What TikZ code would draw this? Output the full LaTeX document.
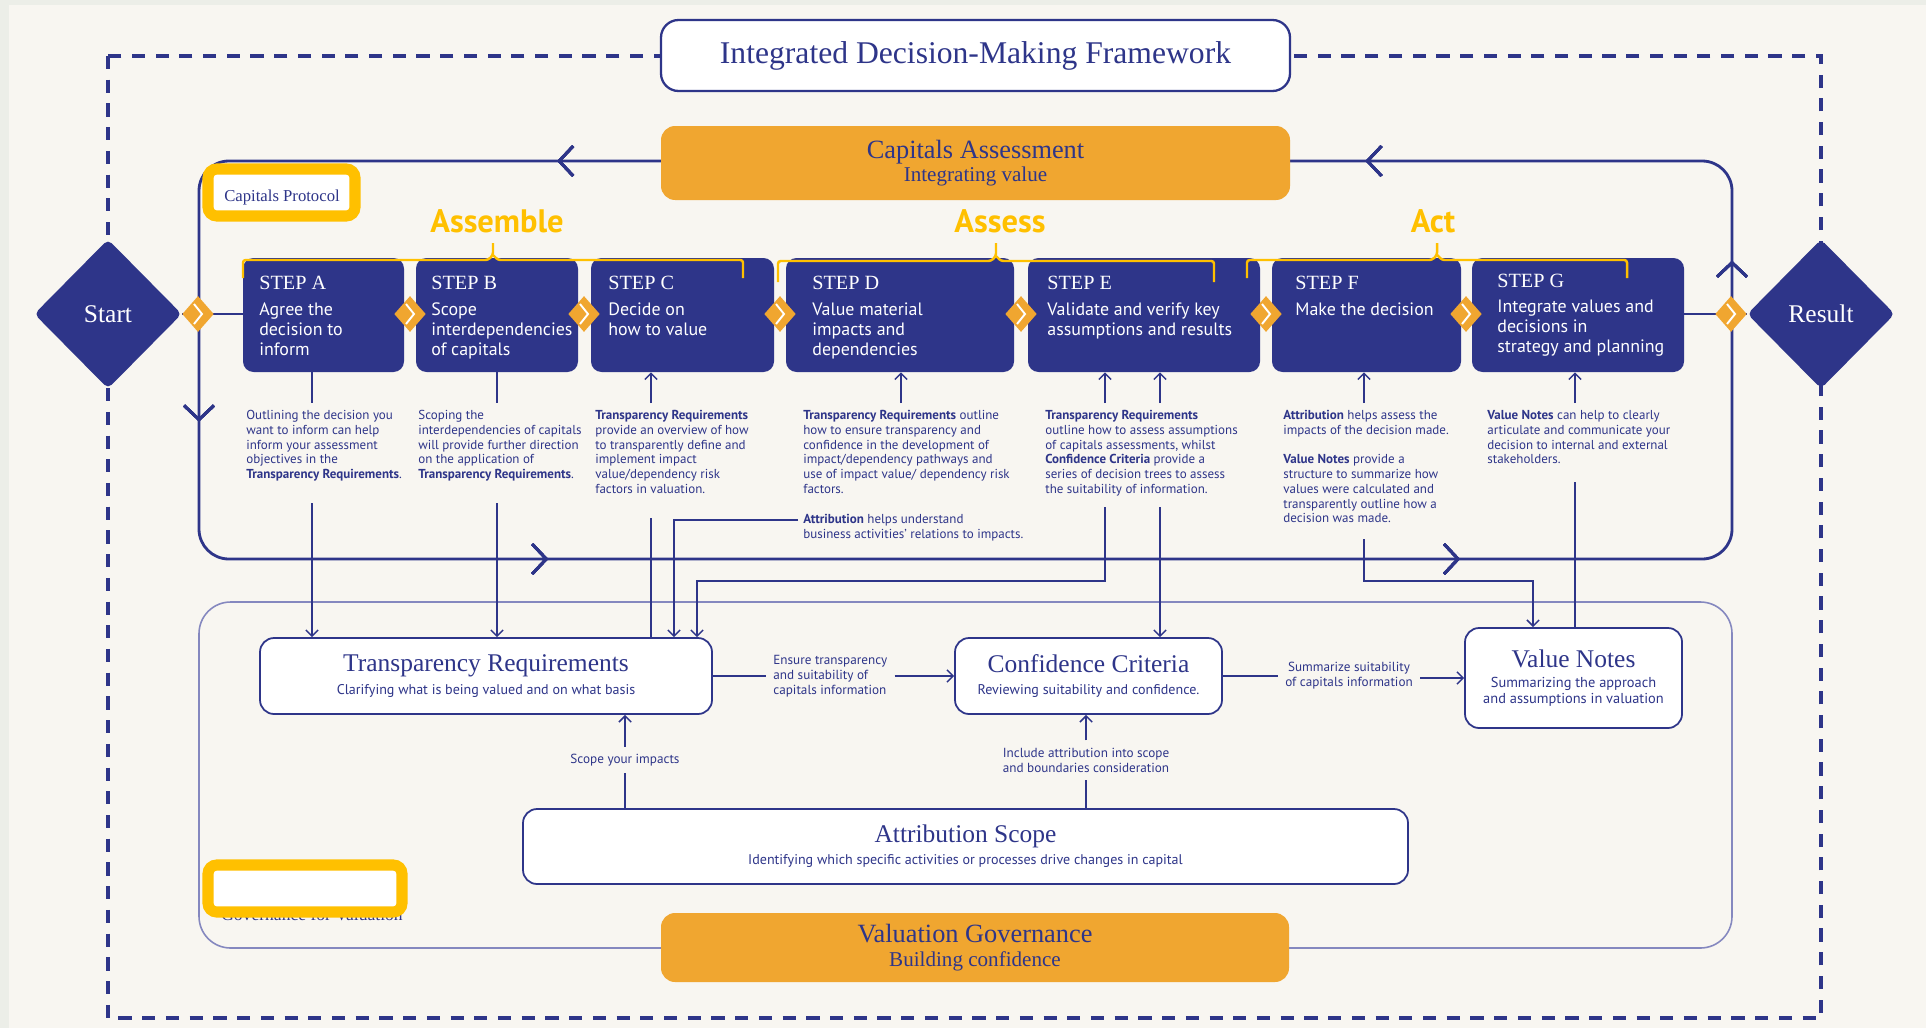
\documentclass[tikz,border=0pt]{standalone}
\usepackage{fontspec}
\setmainfont{Liberation Serif}
\setsansfont{PT Sans}
\usetikzlibrary{arrows.meta,positioning,fit,calc,shapes.geometric,decorations.markings}

\definecolor{navy}{HTML}{2E3589}
\definecolor{amber}{HTML}{F0A630}
\definecolor{gold}{HTML}{FFC000}
\definecolor{paper}{HTML}{F8F6F1}
\definecolor{edge}{HTML}{ECEEE8}
\definecolor{lilac}{HTML}{8588BF}

\tikzset{
  stepbox/.style={fill=navy, rounded corners=6pt, inner sep=0pt},
  steptitle/.style={anchor=base west, inner sep=0pt, text=white, font=\fontsize{11.5}{14}\selectfont},
  steptext/.style={anchor=north west, inner sep=0pt, text=white, align=left, font=\sffamily\fontsize{10.2}{11.4}\selectfont},
  note/.style={anchor=north west, inner sep=0pt, text=navy, align=left, font=\sffamily\fontsize{7.4}{8.4}\selectfont},
  wbox/.style={draw=navy, line width=1pt, fill=white, rounded corners=8pt, inner sep=0pt},
  obox/.style={fill=amber, rounded corners=8pt, inner sep=0pt},
  boxtext/.style={inner sep=0pt, align=center, text=navy},
  tag/.style={draw=gold, line width=6.3pt, fill=white, rounded corners=5pt, inner sep=0pt},
  phase/.style={text=gold, font=\sffamily\bfseries\fontsize{18.5}{20}\selectfont},
  brace/.style={draw=gold, line width=1.4pt, rounded corners=1.5pt},
  hinge/.style={diamond, fill=amber, minimum width=18pt, minimum height=20.5pt, inner sep=0pt},
  chevron/.style={draw=white, line width=1.1pt},
  ends/.style={diamond, fill=navy, text=white, minimum width=84pt, minimum height=85pt, inner sep=0pt, rounded corners=3pt, font=\fontsize{14.5}{16}\selectfont},
  loopline/.style={navy, line width=1.6pt},
  loopmark/.style={decoration={markings, mark=at position #1 with {\arrow{Straight Barb[length=8pt, width=17pt]}}}, postaction={decorate}},
  conn/.style={draw=navy, line width=0.85pt},
  arr/.style={conn, -{Straight Barb[length=3.5pt, width=7pt]}},
  lbl/.style={text=navy, font=\sffamily\fontsize{7.5}{8.6}\selectfont, inner sep=4pt},
  sub/.style={font=\sffamily\fontsize{8}{9.6}\selectfont},
}

\newcommand{\bhead}[1]{{\rmfamily\fontsize{14.5}{16}\selectfont #1}}

\begin{document}
\begin{tikzpicture}[x=0.02cm, y=-0.02cm]
% paper
\fill[paper] (0,0) rectangle (1926,1028);
\fill[edge] (0,0) rectangle (9,1028);
\fill[edge] (0,0) rectangle (1926,5);
\useasboundingbox (0,0) rectangle (1926,1028);

% frames
\draw[navy, line width=1.9pt, dash pattern=on 7.5pt off 6pt] (108,56) rectangle (1821,1018);
\draw[lilac, line width=0.9pt, rounded corners=18pt] (199,602) rectangle (1732,948);
\draw[loopline, rounded corners=17pt, loopmark=7.76cm, loopmark=19.88cm, loopmark=29.36cm,
  loopmark=47.6cm, loopmark=58.75cm, loopmark=67.82cm]
  (975,161) -- (199,161) -- (199,559) -- (1732,559) -- (1732,161) -- cycle;

% header and the two orange bands
\node[wbox, line width=1.3pt, rounded corners=10pt, fit={(661,20)(1290,91)}] (title) {};
\node[boxtext, font=\fontsize{18}{20}\selectfont] (titletxt) at (title.center) {Integrated Decision-Making Framework};
\node[obox, fit={(661,126)(1290,200)}] (assess) {};
\node[boxtext, font=\fontsize{12}{13.5}\selectfont] (assesstxt) at (assess.center) {{\fontsize{15}{17}\selectfont Capitals Assessment}\\Integrating value};
\node[obox, fit={(661,913)(1289,982)}] (govern) {};
\node[boxtext, font=\fontsize{12}{14}\selectfont] (governtxt) at (govern.center) {{\fontsize{15}{17}\selectfont Valuation Governance}\\Building confidence};

% steps
\node[stepbox, fit={(243,258)(404,372)}] (stepA) {};
\node[stepbox, fit={(416,258)(578,372)}] (stepB) {};
\node[stepbox, fit={(591,258)(774,372)}] (stepC) {};
\node[stepbox, fit={(786,258)(1014,372)}] (stepD) {};
\node[stepbox, fit={(1028,258)(1260,372)}] (stepE) {};
\node[stepbox, fit={(1272,258)(1461,372)}] (stepF) {};
\node[stepbox, fit={(1472,258)(1684,372)}] (stepG) {};

\node[steptitle] (titleA) at (259,289) {STEP A};
\node[steptext] (textA) at (259,302) {Agree the\\decision to\\inform};
\node[steptitle] (titleB) at (431,289) {STEP B};
\node[steptext] (textB) at (431,302) {Scope\\interdependencies\\of capitals};
\node[steptitle] (titleC) at (608,289) {STEP C};
\node[steptext] (textC) at (608,302) {Decide on\\how to value};
\node[steptitle] (titleD) at (812,289) {STEP D};
\node[steptext] (textD) at (812,302) {Value material\\impacts and\\dependencies};
\node[steptitle] (titleE) at (1047,289) {STEP E};
\node[steptext] (textE) at (1047,302) {Validate and verify key\\assumptions and results};
\node[steptitle] (titleF) at (1295,289) {STEP F};
\node[steptext] (textF) at (1295,302) {Make the decision};
\node[steptitle] (titleG) at (1497,287) {STEP G};
\node[steptext] (textG) at (1497,300) {Integrate values and\\decisions in\\strategy and planning};

% start / result and the hinges between steps
\node[ends] (start) at (108,314) {Start};
\node[ends] (result) at (1821,314) {Result};
\draw[loopline] (start.east) -- (start.east -| stepA.west);
\draw[loopline] (stepG.east |- result.west) -- (result.west);
\foreach \x [count=\i] in {198,410,584,780,1021,1266,1466,1731} {
  \node[hinge] (hinge\i) at (\x,314) {};
  \draw[chevron] ([shift={(-4,-10)}]hinge\i.center) -- ([shift={(4,0)}]hinge\i.center) -- ([shift={(-4,10)}]hinge\i.center);
}

% phases
\node[phase] (assemble) at (497,221) {Assemble};
\node[phase] (assessing) at (1000,221) {Assess};
\node[phase] (act) at (1433,221) {Act};
\draw[brace] (243,278) -- (243,260) -- (488,260) -- (493,255) -- (493,243);
\draw[brace] (493,255) -- (498,260) -- (743,260) -- (743,278);
\draw[brace] (778,282) -- (778,261) -- (991,261) -- (996,256) -- (996,243);
\draw[brace] (996,256) -- (1001,261) -- (1214,261) -- (1214,282);
\draw[brace] (1247,278) -- (1247,260) -- (1432,260) -- (1437,255) -- (1437,243);
\draw[brace] (1437,255) -- (1442,260) -- (1627,260) -- (1627,278);

% yellow tags
\node[tag, fit={(208,169)(355,216)}] (protocol) {};
\node[text=navy, font=\fontsize{9.5}{11}\selectfont] (protocoltxt) at (282,197) {Capitals Protocol};
\node[text=navy, anchor=base, font=\fontsize{10}{12}\selectfont] (govtxt) at (312,920) {Governance for Valuation};
\node[tag, fit={(208,865)(402,912)}] (govtag) {};

% notes under the steps
\node[note] (noteA) at (246,410) {Outlining the decision you\\want to inform can help\\inform your assessment\\objectives in the\\\textbf{Transparency Requirements}.};
\node[note] (noteB) at (418,410) {Scoping the\\interdependencies of capitals\\will provide further direction\\on the application of\\\textbf{Transparency Requirements}.};
\node[note] (noteC) at (595,410) {\textbf{Transparency Requirements}\\provide an overview of how\\to transparently define and\\implement impact\\value/dependency risk\\factors in valuation.};
\node[note] (noteD) at (803,410) {\textbf{Transparency Requirements} outline\\how to ensure transparency and\\confidence in the development of\\impact/dependency pathways and\\use of impact value/ dependency risk\\factors.};
\node[note] (attr) at (803,514) {\textbf{Attribution} helps understand\\business activities' relations to impacts.};
\node[note] (noteE) at (1045,410) {\textbf{Transparency Requirements}\\outline how to assess assumptions\\of capitals assessments, whilst\\\textbf{Confidence Criteria} provide a\\series of decision trees to assess\\the suitability of information.};
\node[note] (noteF) at (1283,410) {\textbf{Attribution} helps assess the\\impacts of the decision made.\\[8.4pt]\textbf{Value Notes} provide a\\structure to summarize how\\values were calculated and\\transparently outline how a\\decision was made.};
\node[note] (noteG) at (1487,410) {\textbf{Value Notes} can help to clearly\\articulate and communicate your\\decision to internal and external\\stakeholders.};

% lower boxes
\node[wbox, fit={(260,638)(712,714)}] (trans) {};
\node[boxtext, sub] (transtxt) at (trans.center) {\bhead{Transparency Requirements}\\[3pt]Clarifying what is being valued and on what basis};
\node[wbox, fit={(955,638)(1222,714)}] (conf) {};
\node[boxtext, sub] (conftxt) at (conf.center) {\bhead{Confidence Criteria}\\[3pt]Reviewing suitability and confidence.};
\node[wbox, fit={(1465,628)(1682,728)}] (notes) {};
\node[boxtext, font=\sffamily\fontsize{8.2}{8.8}\selectfont] (notestxt) at (notes.center) {\bhead{Value Notes}\\[2.5pt]Summarizing the approach\\and assumptions in valuation};
\node[wbox, fit={(523,809)(1408,884)}] (scope) {};
\node[boxtext, font=\sffamily\fontsize{8}{9}\selectfont] (scopetxt) at (scope.center) {\bhead{Attribution Scope}\\[3.5pt]Identifying which specific activities or processes drive changes in capital};

% connector labels
\node[lbl, align=left, anchor=west] (ensure) at (766,676) {Ensure transparency\\and suitability of\\capitals information};
\node[lbl, align=center] (summ) at (1349,676) {Summarize suitability\\of capitals information};
\node[lbl] (impacts) at (625,760) {Scope your impacts};
\node[lbl, align=center] (include) at (1086,760) {Include attribution into scope\\and boundaries consideration};

% connector points
\coordinate (a1) at (312,403); \coordinate (a2) at (312,503);
\coordinate (b1) at (497,403); \coordinate (b2) at (497,503);
\coordinate (c1) at (651,403); \coordinate (c2) at (651,518);
\coordinate (d1) at (901,403);
\coordinate (e1) at (1105,403); \coordinate (e2) at (1160,403);
\coordinate (e3) at (1105,507); \coordinate (e4) at (1160,507);
\coordinate (f1) at (1364,403); \coordinate (f2) at (1364,539);
\coordinate (g1) at (1575,403); \coordinate (g2) at (1575,482);
\coordinate (at0) at (798,520); \coordinate (at) at (674,520);
\coordinate (ej) at (697,581); \coordinate (fj) at (1533,581);

% steps <-> notes
\draw[conn] (stepA.south -| a1) -- (a1);
\draw[conn] (stepB.south -| b1) -- (b1);
\draw[arr] (c1) -- (c1 |- stepC.south);
\draw[arr] (d1) -- (d1 |- stepD.south);
\draw[arr] (e1) -- (e1 |- stepE.south);
\draw[arr] (e2) -- (e2 |- stepE.south);
\draw[arr] (f1) -- (f1 |- stepF.south);
\draw[arr] (g1) -- (g1 |- stepG.south);

% notes <-> lower boxes
\draw[arr] (a2) -- (a2 |- trans.north);
\draw[arr] (b2) -- (b2 |- trans.north);
\draw[conn] (c2 |- trans.north) -- (c2);
\draw[arr] (at0) -- (at) -- (at |- trans.north);
\draw[arr] (e3) |- (ej) -- (ej |- trans.north);
\draw[arr] (e4) -- (e4 |- conf.north);
\draw[arr] (f2) |- (fj) -- (fj |- notes.north);
\draw[conn] (g2 |- notes.north) -- (g2);

% between the lower boxes
\draw[conn] (trans.east) -- (ensure.west |- trans.east);
\draw[arr] (ensure.east |- conf.west) -- (conf.west);
\draw[conn] (conf.east) -- (summ.west |- conf.east);
\draw[arr] (summ.east |- notes.west) -- (notes.west);
\draw[conn] (impacts.south |- scope.north) -- (impacts.south);
\draw[arr] (impacts.north) -- (impacts.north |- trans.south);
\draw[conn] (include.south |- scope.north) -- (include.south);
\draw[arr] (include.north) -- (include.north |- conf.south);
\end{tikzpicture}
\end{document}
